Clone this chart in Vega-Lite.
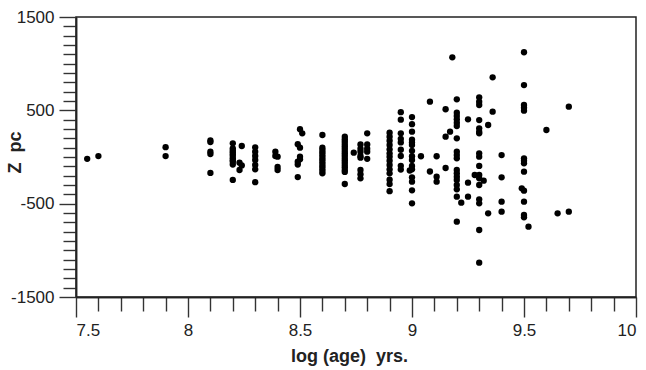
{
  "$schema": "https://vega.github.io/schema/vega-lite/v6.json",
  "width": 560,
  "height": 280,
  "autosize": {"type": "none"},
  "padding": {"left": 76, "top": 17, "right": 10, "bottom": 73},
  "background": "white",
  "config": {
    "view": {"stroke": "#222", "strokeWidth": 1.5},
    "axis": {
      "grid": false,
      "labelFont": "Liberation Sans",
      "labelFontSize": 17,
      "labelColor": "#222",
      "titleFont": "Liberation Sans",
      "titleFontSize": 18,
      "titleFontWeight": "bold",
      "titleColor": "#222",
      "domainColor": "#222",
      "domainWidth": 1.5,
      "tickColor": "#333",
      "tickWidth": 1.4
    }
  },
  "datasets": {
    "stars": [
      {"age": 7.55, "z": -20}, {"age": 7.6, "z": 10},
      {"age": 7.9, "z": 105}, {"age": 7.9, "z": 10},
      {"age": 8.1, "z": 178}, {"age": 8.1, "z": 160}, {"age": 8.1, "z": 57}, {"age": 8.1, "z": 32}, {"age": 8.1, "z": -171},
      {"age": 8.2, "z": 146}, {"age": 8.2, "z": 93}, {"age": 8.2, "z": 70}, {"age": 8.2, "z": 50}, {"age": 8.2, "z": 30}, {"age": 8.2, "z": 10}, {"age": 8.2, "z": -14}, {"age": 8.2, "z": -35}, {"age": 8.2, "z": -50}, {"age": 8.2, "z": -80}, {"age": 8.2, "z": -246},
      {"age": 8.24, "z": 118}, {"age": 8.23, "z": -61}, {"age": 8.24, "z": -90}, {"age": 8.23, "z": -139},
      {"age": 8.3, "z": 104}, {"age": 8.3, "z": 57}, {"age": 8.3, "z": 11}, {"age": 8.3, "z": -32}, {"age": 8.3, "z": -86}, {"age": 8.3, "z": -132}, {"age": 8.3, "z": -270},
      {"age": 8.39, "z": 57}, {"age": 8.39, "z": 11}, {"age": 8.4, "z": 4}, {"age": 8.4, "z": -107}, {"age": 8.4, "z": -139},
      {"age": 8.5, "z": 297}, {"age": 8.51, "z": 254}, {"age": 8.49, "z": 137}, {"age": 8.5, "z": 100}, {"age": 8.5, "z": 4}, {"age": 8.5, "z": -25}, {"age": 8.49, "z": -50}, {"age": 8.49, "z": -80}, {"age": 8.49, "z": -215},
      {"age": 8.6, "z": 236}, {"age": 8.6, "z": 100}, {"age": 8.6, "z": 75}, {"age": 8.6, "z": 50}, {"age": 8.6, "z": 25}, {"age": 8.6, "z": 0}, {"age": 8.6, "z": -25}, {"age": 8.6, "z": -50}, {"age": 8.6, "z": -75}, {"age": 8.6, "z": -100}, {"age": 8.6, "z": -125}, {"age": 8.6, "z": -150}, {"age": 8.6, "z": -175},
      {"age": 8.7, "z": 218}, {"age": 8.7, "z": 190}, {"age": 8.7, "z": 165}, {"age": 8.7, "z": 140}, {"age": 8.7, "z": 115}, {"age": 8.7, "z": 90}, {"age": 8.7, "z": 65}, {"age": 8.7, "z": 40}, {"age": 8.7, "z": 15}, {"age": 8.7, "z": -10}, {"age": 8.7, "z": -35}, {"age": 8.7, "z": -60}, {"age": 8.7, "z": -85}, {"age": 8.7, "z": -110}, {"age": 8.7, "z": -139}, {"age": 8.7, "z": -160}, {"age": 8.7, "z": -289},
      {"age": 8.74, "z": 46},
      {"age": 8.77, "z": 135}, {"age": 8.77, "z": 88}, {"age": 8.77, "z": 57}, {"age": 8.77, "z": 11}, {"age": 8.77, "z": -7}, {"age": 8.77, "z": -139}, {"age": 8.77, "z": -185}, {"age": 8.77, "z": -229},
      {"age": 8.8, "z": 254}, {"age": 8.8, "z": 135}, {"age": 8.8, "z": 88}, {"age": 8.8, "z": 57}, {"age": 8.8, "z": -20},
      {"age": 8.9, "z": 261}, {"age": 8.9, "z": 218}, {"age": 8.9, "z": 175}, {"age": 8.9, "z": 129}, {"age": 8.9, "z": 82}, {"age": 8.9, "z": 39}, {"age": 8.9, "z": 4}, {"age": 8.9, "z": -39}, {"age": 8.9, "z": -86}, {"age": 8.9, "z": -132}, {"age": 8.9, "z": -175}, {"age": 8.9, "z": -243}, {"age": 8.9, "z": -290}, {"age": 8.9, "z": -366},
      {"age": 8.95, "z": 480}, {"age": 8.95, "z": 400}, {"age": 8.95, "z": 254}, {"age": 8.95, "z": 195}, {"age": 8.95, "z": 156}, {"age": 8.95, "z": 78}, {"age": 8.95, "z": 11}, {"age": 8.95, "z": -95}, {"age": 8.95, "z": -135},
      {"age": 9.0, "z": 428}, {"age": 9.0, "z": 352}, {"age": 9.0, "z": 271}, {"age": 9.0, "z": 186}, {"age": 9.0, "z": 155}, {"age": 9.0, "z": 129}, {"age": 9.0, "z": 66}, {"age": 9.0, "z": 8}, {"age": 9.0, "z": -32}, {"age": 9.0, "z": -96}, {"age": 9.0, "z": -132}, {"age": 8.99, "z": -145}, {"age": 9.0, "z": -218}, {"age": 9.0, "z": -264}, {"age": 9.0, "z": -357}, {"age": 9.0, "z": -496},
      {"age": 9.04, "z": 8},
      {"age": 9.08, "z": 593}, {"age": 9.08, "z": -155},
      {"age": 9.11, "z": 8}, {"age": 9.11, "z": -212}, {"age": 9.11, "z": -264},
      {"age": 9.15, "z": 512}, {"age": 9.15, "z": 218}, {"age": 9.15, "z": -118}, {"age": 9.17, "z": 271},
      {"age": 9.18, "z": 1068},
      {"age": 9.2, "z": 618}, {"age": 9.2, "z": 475}, {"age": 9.2, "z": 439}, {"age": 9.2, "z": 404}, {"age": 9.2, "z": 368}, {"age": 9.2, "z": 332}, {"age": 9.2, "z": 200}, {"age": 9.2, "z": 57}, {"age": 9.2, "z": 21}, {"age": 9.2, "z": -14}, {"age": 9.2, "z": -139}, {"age": 9.2, "z": -175}, {"age": 9.2, "z": -211}, {"age": 9.2, "z": -246}, {"age": 9.2, "z": -300}, {"age": 9.2, "z": -346}, {"age": 9.2, "z": -425}, {"age": 9.2, "z": -693},
      {"age": 9.22, "z": -489},
      {"age": 9.25, "z": 404}, {"age": 9.25, "z": -275}, {"age": 9.25, "z": -425},
      {"age": 9.28, "z": -193},
      {"age": 9.3, "z": 639}, {"age": 9.3, "z": 593}, {"age": 9.3, "z": 557}, {"age": 9.3, "z": 396}, {"age": 9.3, "z": 307}, {"age": 9.3, "z": 271}, {"age": 9.3, "z": 254}, {"age": 9.3, "z": 39}, {"age": 9.3, "z": 4}, {"age": 9.3, "z": -96}, {"age": 9.3, "z": -193}, {"age": 9.3, "z": -229}, {"age": 9.3, "z": -300}, {"age": 9.3, "z": -454}, {"age": 9.3, "z": -496}, {"age": 9.3, "z": -782}, {"age": 9.3, "z": -1132},
      {"age": 9.32, "z": -254},
      {"age": 9.34, "z": 343}, {"age": 9.34, "z": -604},
      {"age": 9.36, "z": 854}, {"age": 9.36, "z": 486},
      {"age": 9.4, "z": 21}, {"age": 9.4, "z": -218}, {"age": 9.4, "z": -479}, {"age": 9.4, "z": -586},
      {"age": 9.5, "z": 1122}, {"age": 9.5, "z": 771}, {"age": 9.5, "z": 557}, {"age": 9.5, "z": 529}, {"age": 9.5, "z": 496}, {"age": 9.5, "z": -14}, {"age": 9.5, "z": -39}, {"age": 9.5, "z": -68}, {"age": 9.5, "z": -157}, {"age": 9.49, "z": -336}, {"age": 9.5, "z": -361}, {"age": 9.5, "z": -479}, {"age": 9.5, "z": -621}, {"age": 9.5, "z": -646},
      {"age": 9.52, "z": -746},
      {"age": 9.6, "z": 289},
      {"age": 9.65, "z": -604},
      {"age": 9.7, "z": 539}, {"age": 9.7, "z": -586}
    ]
  },
  "layer": [
    {
      "data": {"name": "stars"},
      "mark": {"type": "circle", "size": 40, "color": "black", "opacity": 1},
      "encoding": {
        "x": {
          "field": "age", "type": "quantitative",
          "scale": {"domain": [7.5, 10], "nice": false, "zero": false},
          "axis": {
            "orient": "bottom",
            "values": [7.6, 7.7, 7.8, 7.9, 8.1, 8.2, 8.3, 8.4, 8.6, 8.7, 8.8, 8.9, 9.1, 9.2, 9.3, 9.4, 9.6, 9.7, 9.8, 9.9],
            "labels": false, "tickSize": 14, "title": null
          }
        },
        "y": {
          "field": "z", "type": "quantitative",
          "scale": {"domain": [-1500, 1500], "nice": false, "zero": false},
          "axis": {
            "orient": "left",
            "values": [1400, 1300, 1200, 1100, 1000, 900, 800, 700, 600, 400, 300, 200, 100, 0, -100, -200, -300, -400, -600, -700, -800, -900, -1000, -1100, -1200, -1300, -1400],
            "labels": false, "tickSize": 13, "title": null
          }
        }
      }
    },
    {
      "mark": {"type": "rule", "color": "#a04a4a", "strokeWidth": 1},
      "encoding": {
        "y": {
          "datum": 0, "type": "quantitative",
          "axis": {
            "orient": "left",
            "values": [1500, 500, -500, -1500],
            "labelExpr": "datum.value + ''",
            "tickSize": 17, "labelPadding": 5,
            "title": "Z\u00a0 pc",
            "titleAngle": -90, "titleX": -61, "titleY": 135,
            "titleAlign": "center", "titleBaseline": "middle"
          }
        },
        "x": {
          "datum": 7.5, "type": "quantitative",
          "axis": {
            "orient": "bottom",
            "values": [7.5, 8, 8.5, 9, 9.5, 10],
            "format": "~g",
            "tickSize": 20, "labelPadding": 5,
            "title": "log (age)\u00a0 yrs.",
            "titleX": 273, "titleY": 64,
            "titleAlign": "center", "titleBaseline": "alphabetic"
          }
        },
        "x2": {"datum": 10}
      }
    }
  ],
  "resolve": {"axis": {"x": "independent", "y": "independent"}}
}
